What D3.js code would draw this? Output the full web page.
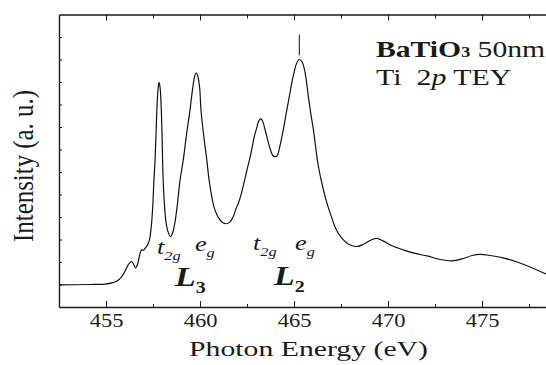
<!DOCTYPE html>
<html>
<head>
<meta charset="utf-8">
<script src="https://cdn.jsdelivr.net/npm/d3@7"></script>
<style>
  body { margin: 0; background: #fff; }
  svg { display: block; }
  text { font-family: "Liberation Serif", "Times New Roman", serif; fill: #1a1a1a; }
</style>
</head>
<body>
<script>
// Ti 2p TEY spectrum of BaTiO3 50nm
const energy = [452.50, 454.15, 454.95, 455.32, 455.59, 455.80, 455.96, 456.12, 456.25, 456.36,
  456.46, 456.57, 456.68, 456.78, 456.89, 456.99, 457.10, 457.21, 457.31, 457.39,
  457.47, 457.55, 457.61, 457.66, 457.71, 457.77, 457.82, 457.87, 457.93, 457.98,
  458.03, 458.11, 458.19, 458.30, 458.43, 458.56, 458.67, 458.78, 458.94, 459.11,
  459.28, 459.47, 459.60, 459.71, 459.79, 459.87, 459.98, 460.05, 460.19, 460.36,
  460.48, 460.59, 460.74, 460.90, 461.06, 461.22, 461.38, 461.57, 461.77, 461.91,
  462.05, 462.18, 462.34, 462.50, 462.63, 462.75, 462.87, 463.02, 463.11, 463.23,
  463.32, 463.46, 463.62, 463.78, 463.88, 463.99, 464.10, 464.23, 464.43, 464.60,
  464.75, 464.89, 465.00, 465.13, 465.28, 465.43, 465.59, 465.76, 465.90, 466.03,
  466.14, 466.24, 466.33, 466.44, 466.70, 466.97, 467.23, 467.55, 467.93, 468.35,
  468.72, 469.10, 469.41, 469.73, 470.21, 470.80, 471.44, 472.07, 472.77, 473.40,
  473.94, 474.47, 474.89, 475.43, 476.22, 476.86, 477.55, 478.40];
const intensity = [0.98, 1.00, 1.02, 1.07, 1.16, 1.31, 1.51, 1.78, 1.96, 2.02,
  1.91, 1.74, 1.91, 2.27, 2.54, 2.52, 2.63, 2.76, 2.98, 3.43,
  4.23, 5.65, 6.54, 7.66, 8.86, 9.71, 9.99, 9.80, 8.99, 7.66,
  5.88, 4.54, 3.78, 3.34, 3.13, 3.34, 3.78, 4.45, 5.65, 6.54,
  7.66, 8.77, 9.66, 10.24, 10.41, 10.29, 9.75, 8.77, 7.66, 6.54,
  5.65, 5.06, 4.45, 4.10, 3.87, 3.74, 3.70, 3.76, 4.02, 4.36,
  4.63, 4.99, 5.52, 6.10, 6.54, 6.99, 7.52, 7.97, 8.24, 8.36,
  8.28, 7.88, 7.35, 6.90, 6.72, 6.68, 6.72, 7.08, 7.88, 8.68,
  9.36, 10.02, 10.41, 10.82, 11.00, 10.89, 10.41, 9.36, 8.55, 7.88,
  7.17, 6.54, 6.10, 5.65, 4.76, 4.05, 3.47, 3.05, 2.78, 2.69,
  2.80, 2.98, 3.05, 2.94, 2.72, 2.54, 2.38, 2.27, 2.11, 2.05,
  2.14, 2.29, 2.34, 2.29, 2.16, 2.00, 1.78, 1.47];

const majorTicks = [455, 460, 465, 470, 475];
const minorTicks = [457.5, 462.5, 467.5, 472.5, 477.5];
const yTicks = [1, 2, 3, 4, 5, 6, 7, 8, 9, 10, 11, 12];

// vertical mark above the L2 eg peak: energy, from, to
const peakMark = [465.28, 11.18, 12.11];

// crystal-field labels: [energy, intensity, main, sub]
const fieldLabels = [[457.71, 2.36, 't', '2g'], [459.73, 2.49, 'e', 'g'],
                     [462.82, 2.54, 't', '2g'], [465.05, 2.54, 'e', 'g']];
const edgeLabels = [[458.67, 0.93, 'L', '3'], [463.94, 0.98, 'L', '2']];

const width = 546, height = 365;
const margin = {top: 14.5, right: 0, bottom: 58, left: 59};
const stretch = 'scale(1.25,1)';

const svg = d3.select('body').append('svg').attr('width', width).attr('height', height);

const x = d3.scaleLinear().domain([452.5, 478.4]).range([margin.left, width - margin.right]);
const y = d3.scaleLinear().domain([0, 13]).range([height - margin.bottom, margin.top]);

svg.append('clipPath').attr('id', 'plot')
  .append('rect')
  .attr('x', margin.left).attr('y', margin.top)
  .attr('width', width - margin.left - margin.right)
  .attr('height', height - margin.top - margin.bottom);

// axes, ticks pointing inward
const bottom = svg.append('g').attr('transform', `translate(0,${y(0)})`)
  .call(d3.axisBottom(x).tickValues(majorTicks).tickSize(-6).tickSizeOuter(0).tickFormat(d3.format('d')));
bottom.attr('font-size', 18).attr('font-family', null);
bottom.selectAll('text').attr('y', 20).attr('dy', null).attr('transform', stretch);
svg.append('g').attr('transform', `translate(0,${y(0)})`)
  .call(d3.axisBottom(x).tickValues(minorTicks).tickSize(-3).tickSizeOuter(0).tickFormat(''))
  .select('.domain').remove();

svg.append('g').attr('transform', `translate(0,${y(13)})`)
  .call(d3.axisTop(x).tickValues(majorTicks).tickSize(-6).tickSizeOuter(0).tickFormat(''));
svg.append('g').attr('transform', `translate(0,${y(13)})`)
  .call(d3.axisTop(x).tickValues(minorTicks).tickSize(-4).tickSizeOuter(0).tickFormat(''))
  .select('.domain').remove();

svg.append('g').attr('transform', `translate(${margin.left},0)`)
  .call(d3.axisLeft(y).tickValues(yTicks).tickSize(-3).tickSizeOuter(0).tickFormat(''));

svg.selectAll('.domain').attr('stroke', '#1a1a1a').attr('stroke-width', 1.4);
svg.selectAll('.tick line').attr('stroke', '#1a1a1a').attr('stroke-width', 1);

// spectrum
const line = d3.line()
  .x((d, i) => x(energy[i]))
  .y(d => y(d))
  .curve(d3.curveCatmullRom.alpha(0.5));

svg.append('path')
  .datum(intensity)
  .attr('clip-path', 'url(#plot)')
  .attr('fill', 'none')
  .attr('stroke', '#111')
  .attr('stroke-width', 1.2)
  .attr('d', line);

svg.append('line')
  .attr('x1', x(peakMark[0])).attr('x2', x(peakMark[0]))
  .attr('y1', y(peakMark[1])).attr('y2', y(peakMark[2]))
  .attr('stroke', '#111').attr('stroke-width', 1);

// labels on the peaks
fieldLabels.forEach(d => {
  const t = svg.append('text')
    .attr('transform', `translate(${x(d[0])},${y(d[1])}) ${stretch}`)
    .attr('font-style', 'italic');
  t.append('tspan').attr('font-size', 21).text(d[2]);
  t.append('tspan').attr('font-size', 13).attr('dy', 6).text(d[3]);
});

edgeLabels.forEach(d => {
  const t = svg.append('text')
    .attr('transform', `translate(${x(d[0])},${y(d[1])}) ${stretch}`)
    .attr('font-weight', 'bold');
  t.append('tspan').attr('font-size', 27).attr('font-style', 'italic').text(d[2]);
  t.append('tspan').attr('font-size', 16).attr('dy', 7).text(d[3]);
});

// sample caption
const cap1 = svg.append('text').attr('transform', 'translate(376,57) scale(1.29,1)').attr('font-size', 23);
cap1.append('tspan').attr('font-weight', 'bold').text('BaTiO');
cap1.append('tspan').attr('font-weight', 'bold').attr('font-size', 14).text('3');
cap1.append('tspan').text(' 50nm');

const cap2 = svg.append('text').attr('transform', 'translate(376,85) scale(1.3,1)')
  .attr('font-size', 23).style('white-space', 'pre');
cap2.append('tspan').text('Ti  2');
cap2.append('tspan').attr('font-style', 'italic').text('p');
cap2.append('tspan').text(' TEY');

// axis titles
svg.append('text')
  .attr('x', 308.5).attr('y', 356)
  .attr('text-anchor', 'middle')
  .attr('font-size', 22)
  .attr('textLength', 239).attr('lengthAdjust', 'spacingAndGlyphs')
  .text('Photon Energy (eV)');

svg.append('text')
  .attr('transform', 'translate(33,166) rotate(-90) scale(1,1.25)')
  .attr('text-anchor', 'middle')
  .attr('font-size', 23)
  .attr('textLength', 152).attr('lengthAdjust', 'spacingAndGlyphs')
  .text('Intensity (a. u.)');
</script>
</body>
</html>
